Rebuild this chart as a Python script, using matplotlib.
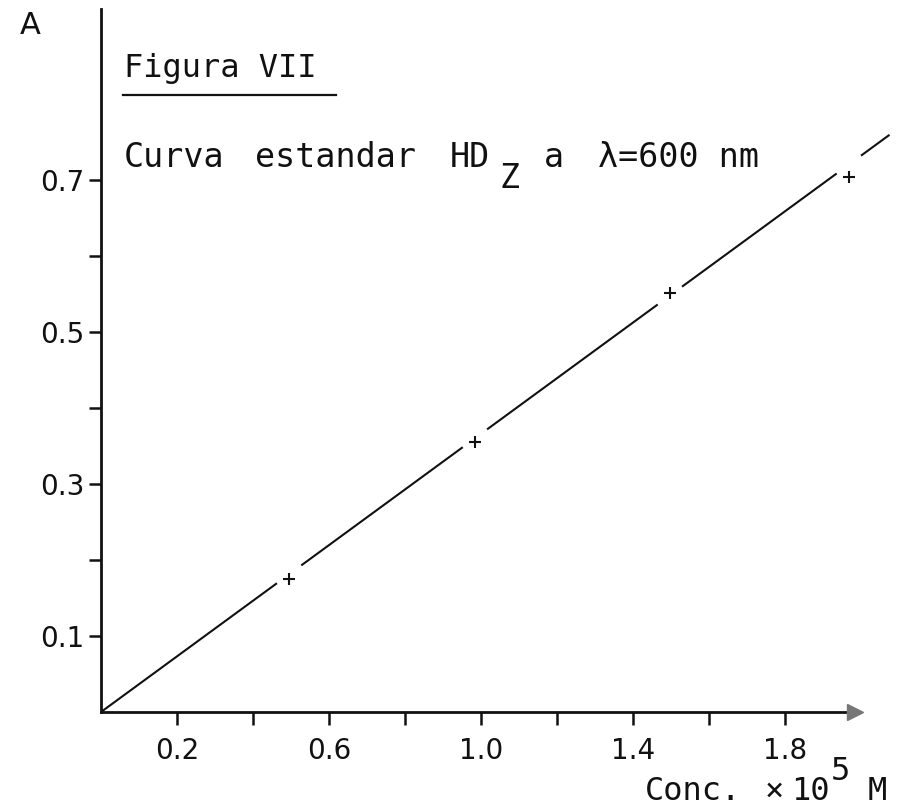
import matplotlib
matplotlib.use("Agg")
import matplotlib.pyplot as plt
from matplotlib.lines import Line2D
import numpy as np

# standard curve readings (conc x 1e5 M, absorbance)
conc = [0.495, 0.984, 1.497, 1.968]
absorb = [0.175, 0.355, 0.551, 0.704]
fit_slope = 0.366      # slope of the hand drawn line
fit_xmax = 2.075       # where the drawn line stops

xtick_vals = [0.2, 0.4, 0.6, 0.8, 1.0, 1.2, 1.4, 1.6, 1.8]
xtick_labels = ['0.2', '', '0.6', '', '1.0', '', '1.4', '', '1.8']
ytick_vals = [0.1, 0.2, 0.3, 0.4, 0.5, 0.6, 0.7]
ytick_labels = ['0.1', '', '0.3', '', '0.5', '', '0.7']

W, H = 901, 807
INK = '#111111'
MONO = 'DejaVu Sans Mono'


def px(x, y):
    return x / W, 1 - y / H


fig = plt.figure(figsize=(W / 100, H / 100), dpi=100)
ax = fig.add_axes([101 / W, 1 - 712 / H, 2.09 * 380 / W, 0.925 * 760 / H])
ax.set_xlim(0, 2.09)
ax.set_ylim(0, 0.925)

# line with small gaps around each point
gap = 0.032
edges = [0.0]
for c in conc:
    edges += [c - gap, c + gap]
edges.append(fit_xmax)
for a, b in zip(edges[0::2], edges[1::2]):
    xs = np.array([a, b])
    ax.plot(xs, fit_slope * xs, color=INK, lw=1.5, solid_capstyle='butt')

ax.plot(conc, absorb, linestyle='none', marker='+', markersize=9,
        markeredgewidth=1.5, color=INK)

# axes
for s in ['top', 'right']:
    ax.spines[s].set_visible(False)
ax.spines['left'].set_linewidth(2)
ax.spines['bottom'].set_linewidth(2)
ax.spines['left'].set_color(INK)
ax.spines['bottom'].set_color(INK)
ax.spines['bottom'].set_bounds(0, 1.97)
ax.plot([1.985], [0], marker='>', markersize=12, color='#777777',
        clip_on=False, zorder=5)

ax.set_xticks(xtick_vals, xtick_labels)
ax.set_yticks(ytick_vals, ytick_labels)
ax.tick_params(axis='both', direction='out', length=9, width=1.8,
               colors=INK, labelsize=20)
ax.tick_params(axis='x', pad=9)
ax.tick_params(axis='y', pad=3)
for lab in ax.get_xticklabels() + ax.get_yticklabels():
    lab.set_family('DejaVu Sans')

# texts
fig.text(*px(30, 25), 'A', fontsize=22, ha='center', va='center', color=INK)
fig.text(*px(124, 77), 'Figura VII', fontsize=23, family=MONO,
         va='baseline', color=INK)
fig.add_artist(Line2D([123 / W, 336 / W], [1 - 95 / H, 1 - 95 / H],
                      color=INK, lw=1.6))
fig.text(*px(124, 167), 'Curva', fontsize=24, family=MONO, va='baseline', color=INK)
fig.text(*px(255, 167), 'estandar', fontsize=24, family=MONO, va='baseline', color=INK)
fig.text(*px(450, 167), 'HD', fontsize=24, family=MONO, va='baseline', color=INK)
fig.text(*px(500, 188), 'Z', fontsize=24, family=MONO, va='baseline', color=INK)
fig.text(*px(544, 167), 'a', fontsize=24, family=MONO, va='baseline', color=INK)
fig.text(*px(598, 167), 'λ=600 nm', fontsize=24, family=MONO, va='baseline', color=INK)

fig.text(*px(645, 800), 'Conc.', fontsize=23, family=MONO, va='baseline', color=INK)
fig.text(*px(765, 800), '×', fontsize=23, family=MONO, va='baseline', color=INK)
fig.text(*px(791, 800), '10', fontsize=23, family=MONO, va='baseline', color=INK)
fig.text(*px(831, 780), '5', fontsize=23, family=MONO, va='baseline', color=INK)
fig.text(*px(868, 800), 'M', fontsize=23, family=MONO, va='baseline', color=INK)

fig.savefig('out.png', dpi=100, facecolor='white')
